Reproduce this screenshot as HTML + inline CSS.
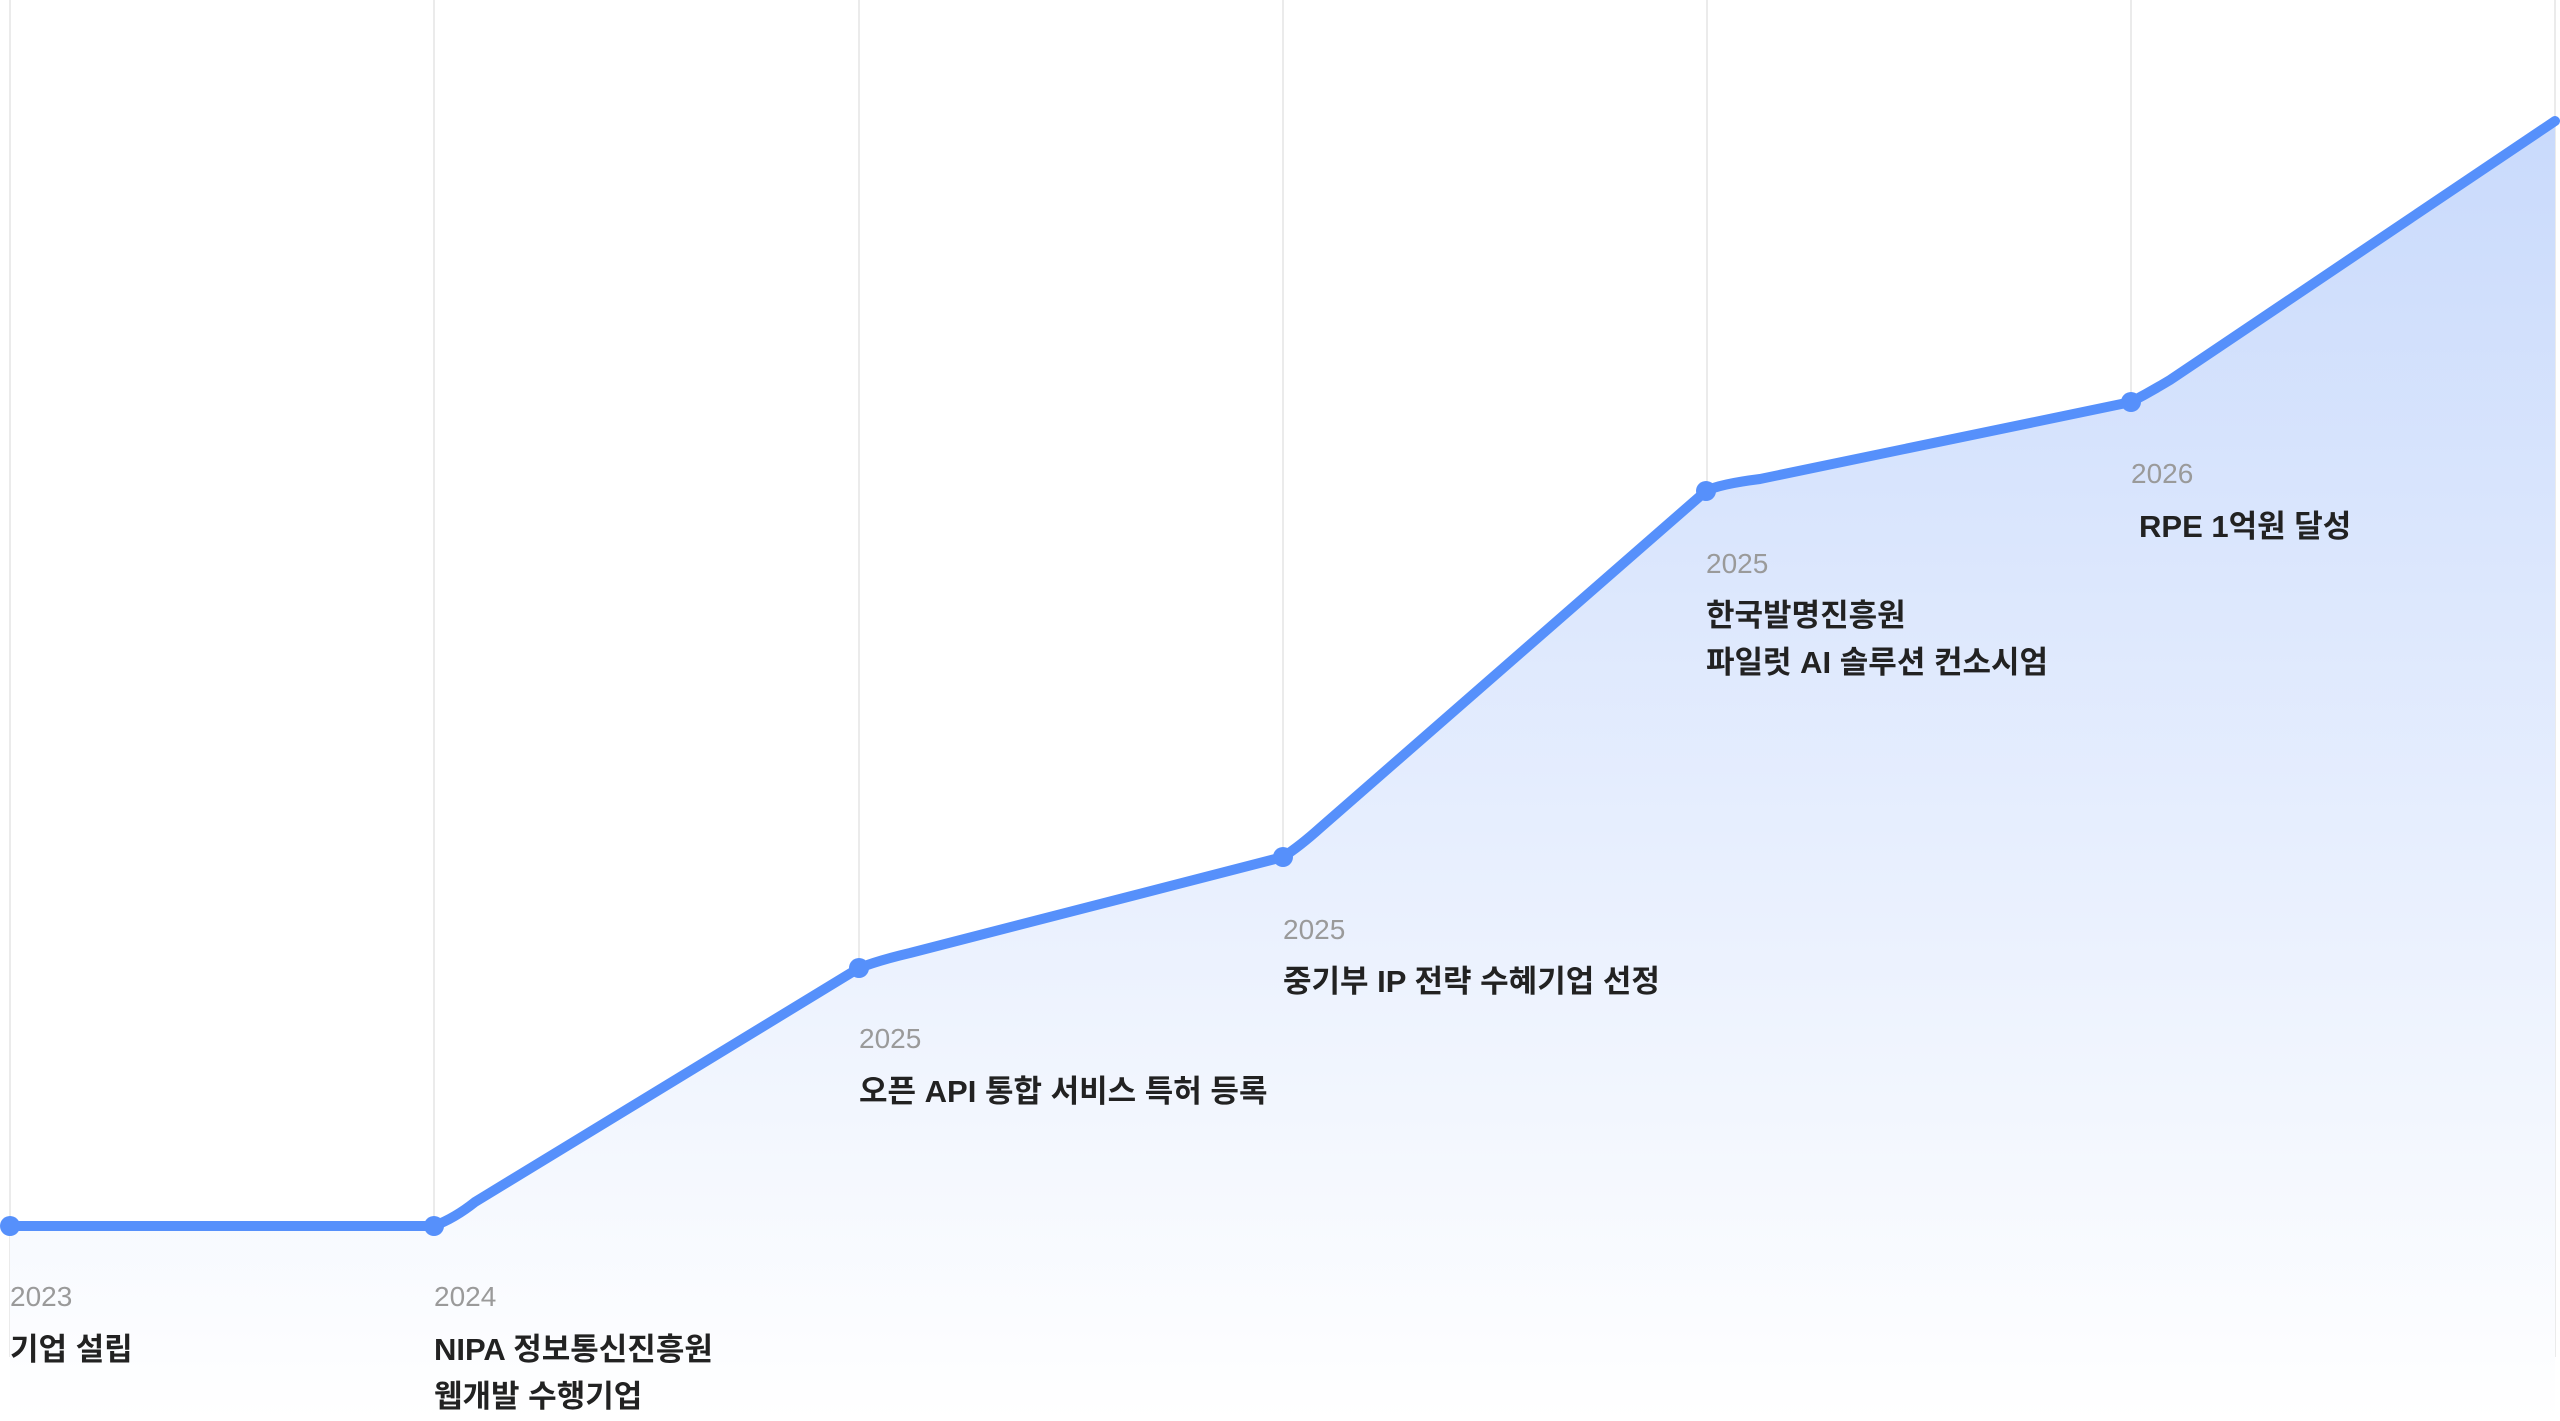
<!DOCTYPE html>
<html><head><meta charset="utf-8"><style>
html,body{margin:0;padding:0;background:#fff;}
body{width:2560px;height:1421px;overflow:hidden;position:relative;font-family:"Liberation Sans","Noto Sans CJK KR",sans-serif;}
.y{position:absolute;font-size:28px;color:#9a9a9a;line-height:1;}
.t{position:absolute;font-size:31px;font-weight:bold;color:#222;line-height:47px;white-space:nowrap;}
</style></head><body>
<svg width="2560" height="1421" style="position:absolute;left:0;top:0">
<defs><linearGradient id="g" x1="0" y1="0" x2="0" y2="1" gradientUnits="objectBoundingBox">
<stop offset="0" stop-color="#c9dafc"/><stop offset="1" stop-color="#ffffff"/></linearGradient></defs>
<g stroke="#ebebeb" stroke-width="2">
<line x1="10" y1="0" x2="10" y2="1357"/><line x1="434" y1="0" x2="434" y2="1357"/>
<line x1="859" y1="0" x2="859" y2="1357"/><line x1="1283" y1="0" x2="1283" y2="1357"/>
<line x1="1707" y1="0" x2="1707" y2="1357"/><line x1="2131" y1="0" x2="2131" y2="1357"/>
<line x1="2555" y1="0" x2="2555" y2="1357"/></g>
<path d="M10,1226 L434,1226 Q455,1218 475,1202 L859,968 Q880,960 910,953 L1283,857 Q1300,846 1320,828 L1706,491 Q1720,484 1760,479 L2131,402 Q2150,392 2170,380 L2555,121 L2555,1421 L10,1421 Z" fill="url(#g)"/>
<path d="M10,1226 L434,1226 Q455,1218 475,1202 L859,968 Q880,960 910,953 L1283,857 Q1300,846 1320,828 L1706,491 Q1720,484 1760,479 L2131,402 Q2150,392 2170,380 L2555,121" fill="none" stroke="#5690fb" stroke-width="10" stroke-linejoin="round" stroke-linecap="round"/>
<g fill="#5690fb"><circle cx="10" cy="1226" r="10"/><circle cx="434" cy="1226" r="10"/><circle cx="859" cy="968" r="10"/><circle cx="1283" cy="857" r="10"/><circle cx="1706" cy="491" r="10"/><circle cx="2131" cy="402" r="10"/></g>
</svg>
<div class="y" style="left:10px;top:1283px">2023</div>
<div class="t" style="left:10px;top:1326px">기업 설립</div>
<div class="y" style="left:434px;top:1283px">2024</div>
<div class="t" style="left:434px;top:1326px">NIPA 정보통신진흥원<br>웹개발 수행기업</div>
<div class="y" style="left:859px;top:1025px">2025</div>
<div class="t" style="left:859px;top:1068px">오픈 API 통합 서비스 특허 등록</div>
<div class="y" style="left:1283px;top:916px">2025</div>
<div class="t" style="left:1283px;top:958px">중기부 IP 전략 수혜기업 선정</div>
<div class="y" style="left:1706px;top:550px">2025</div>
<div class="t" style="left:1706px;top:592px">한국발명진흥원<br>파일럿 AI 솔루션 컨소시엄</div>
<div class="y" style="left:2131px;top:460px">2026</div>
<div class="t" style="left:2139px;top:503px">RPE 1억원 달성</div>
</body></html>
